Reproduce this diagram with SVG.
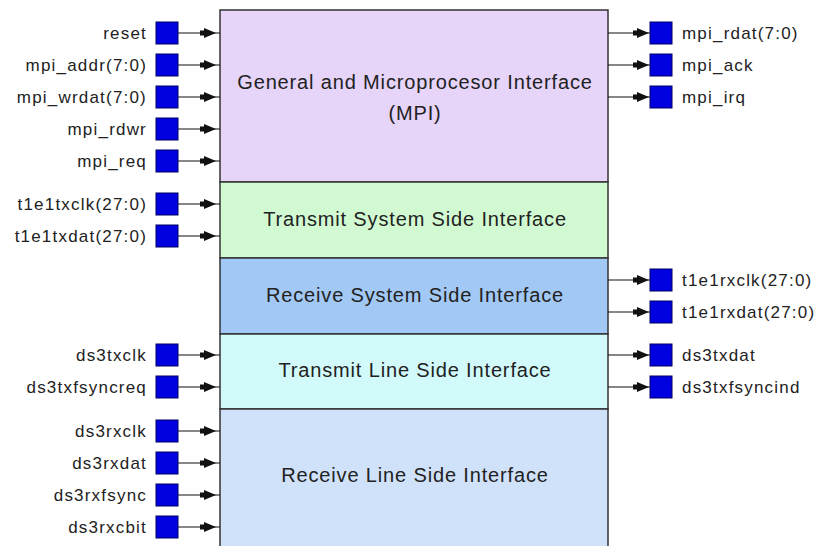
<svg xmlns="http://www.w3.org/2000/svg" xmlns:xlink="http://www.w3.org/1999/xlink" width="819" height="546" viewBox="0 0 819 546">
<style>
.blk{stroke:#333;stroke-width:1.5}
.bt{font-family:"Liberation Sans",Arial,sans-serif;font-size:20px;letter-spacing:0.85px;fill:#222;text-anchor:middle}
.pl{font-family:"Liberation Sans",Arial,sans-serif;font-size:17px;letter-spacing:1.2px;fill:#222;text-anchor:end}
.pr{font-family:"Liberation Sans",Arial,sans-serif;font-size:17px;letter-spacing:1.2px;fill:#222}
.sq{fill:#0000e0;stroke:#000060;stroke-width:1}
.cn{stroke:#111;stroke-width:1.2;fill:none}
.ah{fill:#111}
</style>
<defs>
<path id="ah" class="ah" d="M-16,-2.5 H-12 V-5 L0,0 L-12,5 V2.5 H-16 Z"/>
<rect id="sq" class="sq" x="0" y="-11" width="22" height="22"/>
</defs>
<rect width="819" height="546" fill="#fff"/>

<g id="blk-mpi"><rect class="blk" x="220" y="10" width="388" height="172" fill="#e6d4f9"/><text class="bt" x="415" y="89">General and Microprocesor Interface</text><text class="bt" x="415" y="120">(MPI)</text></g>
<g id="blk-tss"><rect class="blk" x="220" y="182" width="388" height="76" fill="#d2fad2"/><text class="bt" x="415" y="226">Transmit System Side Interface</text></g>
<g id="blk-rss"><rect class="blk" x="220" y="258" width="388" height="76" fill="#a2c8f5"/><text class="bt" x="415" y="302">Receive System Side Interface</text></g>
<g id="blk-tls"><rect class="blk" x="220" y="334" width="388" height="75" fill="#d2fafa"/><text class="bt" x="415" y="377">Transmit Line Side Interface</text></g>
<g id="blk-rls"><rect class="blk" x="220" y="409" width="388" height="160" fill="#d0e2fa"/><text class="bt" x="415" y="482">Receive Line Side Interface</text></g>

<g id="connectors">
<path class="cn" d="M178,33H220 M178,65H220 M178,97H220 M178,129H220 M178,161H220 M178,204H220 M178,236H220 M178,355H220 M178,387H220 M178,431H220 M178,463H220 M178,495H220 M178,527H220"/>
<path class="cn" d="M608,33H650 M608,65H650 M608,97H650 M608,280H650 M608,312H650 M608,355H650 M608,387H650"/>
<use xlink:href="#ah" x="216" y="33"/><use xlink:href="#ah" x="216" y="65"/><use xlink:href="#ah" x="216" y="97"/><use xlink:href="#ah" x="216" y="129"/><use xlink:href="#ah" x="216" y="161"/><use xlink:href="#ah" x="216" y="204"/><use xlink:href="#ah" x="216" y="236"/><use xlink:href="#ah" x="216" y="355"/><use xlink:href="#ah" x="216" y="387"/><use xlink:href="#ah" x="216" y="431"/><use xlink:href="#ah" x="216" y="463"/><use xlink:href="#ah" x="216" y="495"/><use xlink:href="#ah" x="216" y="527"/>
<use xlink:href="#ah" x="649" y="33"/><use xlink:href="#ah" x="649" y="65"/><use xlink:href="#ah" x="649" y="97"/><use xlink:href="#ah" x="649" y="280"/><use xlink:href="#ah" x="649" y="312"/><use xlink:href="#ah" x="649" y="355"/><use xlink:href="#ah" x="649" y="387"/>
</g>

<g id="p-reset"><use xlink:href="#sq" x="156" y="33"/><text class="pl" x="147" y="39">reset</text></g>
<g id="p-mpi_addr"><use xlink:href="#sq" x="156" y="65"/><text class="pl" x="147" y="71">mpi_addr(7:0)</text></g>
<g id="p-mpi_wrdat"><use xlink:href="#sq" x="156" y="97"/><text class="pl" x="147" y="103">mpi_wrdat(7:0)</text></g>
<g id="p-mpi_rdwr"><use xlink:href="#sq" x="156" y="129"/><text class="pl" x="147" y="135">mpi_rdwr</text></g>
<g id="p-mpi_req"><use xlink:href="#sq" x="156" y="161"/><text class="pl" x="147" y="167">mpi_req</text></g>
<g id="p-t1e1txclk"><use xlink:href="#sq" x="156" y="204"/><text class="pl" x="147" y="210">t1e1txclk(27:0)</text></g>
<g id="p-t1e1txdat"><use xlink:href="#sq" x="156" y="236"/><text class="pl" x="147" y="242">t1e1txdat(27:0)</text></g>
<g id="p-ds3txclk"><use xlink:href="#sq" x="156" y="355"/><text class="pl" x="147" y="361">ds3txclk</text></g>
<g id="p-ds3txfsyncreq"><use xlink:href="#sq" x="156" y="387"/><text class="pl" x="147" y="393">ds3txfsyncreq</text></g>
<g id="p-ds3rxclk"><use xlink:href="#sq" x="156" y="431"/><text class="pl" x="147" y="437">ds3rxclk</text></g>
<g id="p-ds3rxdat"><use xlink:href="#sq" x="156" y="463"/><text class="pl" x="147" y="469">ds3rxdat</text></g>
<g id="p-ds3rxfsync"><use xlink:href="#sq" x="156" y="495"/><text class="pl" x="147" y="501">ds3rxfsync</text></g>
<g id="p-ds3rxcbit"><use xlink:href="#sq" x="156" y="527"/><text class="pl" x="147" y="533">ds3rxcbit</text></g>

<g id="p-mpi_rdat"><use xlink:href="#sq" x="650" y="33"/><text class="pr" x="682" y="39">mpi_rdat(7:0)</text></g>
<g id="p-mpi_ack"><use xlink:href="#sq" x="650" y="65"/><text class="pr" x="682" y="71">mpi_ack</text></g>
<g id="p-mpi_irq"><use xlink:href="#sq" x="650" y="97"/><text class="pr" x="682" y="103">mpi_irq</text></g>
<g id="p-t1e1rxclk"><use xlink:href="#sq" x="650" y="280"/><text class="pr" x="682" y="286">t1e1rxclk(27:0)</text></g>
<g id="p-t1e1rxdat"><use xlink:href="#sq" x="650" y="312"/><text class="pr" x="682" y="318">t1e1rxdat(27:0)</text></g>
<g id="p-ds3txdat"><use xlink:href="#sq" x="650" y="355"/><text class="pr" x="682" y="361">ds3txdat</text></g>
<g id="p-ds3txfsyncind"><use xlink:href="#sq" x="650" y="387"/><text class="pr" x="682" y="393">ds3txfsyncind</text></g>
</svg>
